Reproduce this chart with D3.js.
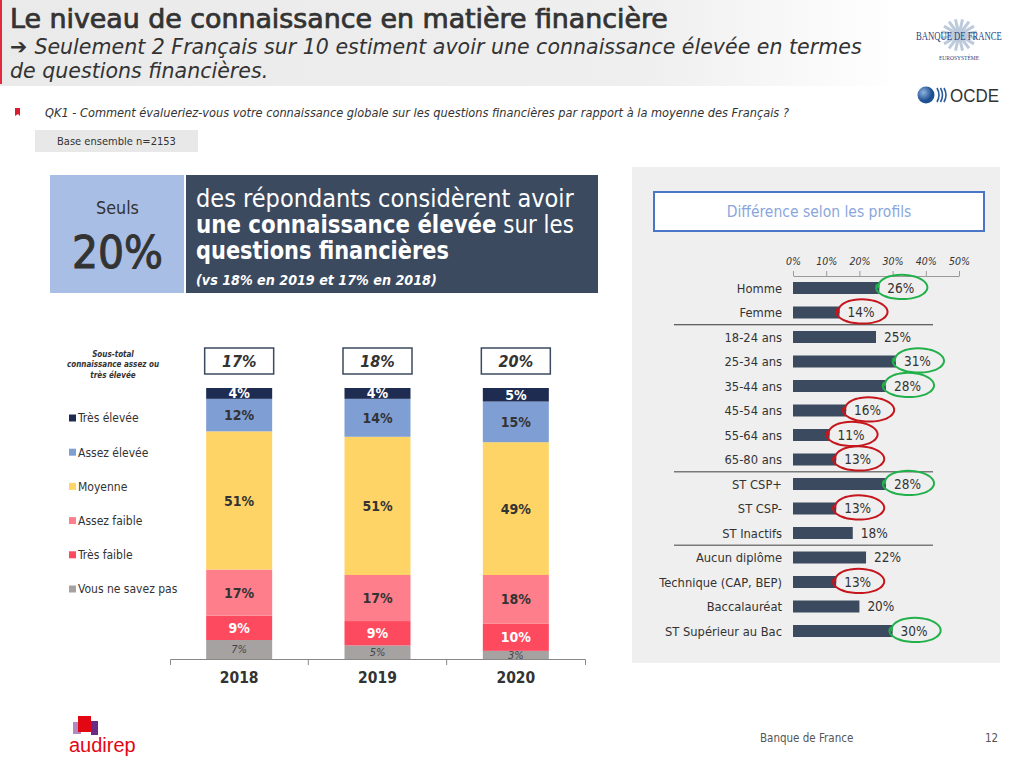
<!DOCTYPE html>
<html><head><meta charset="utf-8">
<script src="https://cdn.jsdelivr.net/npm/d3@7"></script>
<style>
body{margin:0;background:#fff}
svg{display:block}
text{font-family:"DejaVu Sans Condensed","DejaVu Sans",sans-serif}
</style>
</head><body>
<svg id="c" width="1024" height="762"></svg>
<script>
// ---------- DATA ----------
const years = ["2018", "2019", "2020"];
const levels = ["Très élevée", "Assez élevée", "Moyenne", "Assez faible", "Très faible", "Vous ne savez pas"];
const tresElevee = [4, 4, 5];
const assezElevee = [12, 14, 15];
const moyenne = [51, 51, 49];
const assezFaible = [17, 17, 18];
const tresFaible = [9, 9, 10];
const neSaitPas = [7, 5, 3];
const sousTotal = [17, 18, 20];
const levelColors = ["#1e2c52", "#7f9fd4", "#fed466", "#fe7f8b", "#fe4a5f", "#a6a2a2"];
const levelTextColors = ["#ffffff", "#333333", "#333333", "#333333", "#ffffff", "#444444"];

const profiles = ["Homme", "Femme", "18-24 ans", "25-34 ans", "35-44 ans", "45-54 ans", "55-64 ans", "65-80 ans",
  "ST CSP+", "ST CSP-", "ST Inactifs", "Aucun diplôme", "Technique (CAP, BEP)", "Baccalauréat", "ST Supérieur au Bac"];
const profileValues = [26, 14, 25, 31, 28, 16, 11, 13, 28, 13, 18, 22, 13, 20, 30];
const profileMarks = ["high", "low", "", "high", "high", "low", "low", "low", "high", "low", "", "", "low", "", "high"];
const profileGroupEnds = ["Femme", "65-80 ans", "ST Inactifs"];
const profileTicks = [0, 10, 20, 30, 40, 50];

// ---------- HELPERS ----------
const svg = d3.select("#c");
// compress a text horizontally so that it spans the given width
function squeeze(sel, x, y, width) {
  sel.attr("x", 0).attr("y", 0);
  const w = sel.node().getComputedTextLength();
  sel.attr("transform", `translate(${x},${y}) scale(${width / w},1)`);
  return width / w;
}

// ---------- HEADER ----------
const defs = svg.append("defs");
const hg = defs.append("linearGradient").attr("id", "hg").attr("x1", 0).attr("x2", 1).attr("y1", 0).attr("y2", 0);
hg.append("stop").attr("offset", "0").attr("stop-color", "#eaeaea");
hg.append("stop").attr("offset", "0.72").attr("stop-color", "#efefef");
hg.append("stop").attr("offset", "1").attr("stop-color", "#ffffff");
svg.append("rect").attr("x", 0).attr("y", 0).attr("width", 900).attr("height", 86).attr("fill", "url(#hg)");
svg.append("rect").attr("x", 0).attr("y", 0).attr("width", 2).attr("height", 84).attr("fill", "#e2293d");

const title = svg.append("text").attr("fill", "#333").attr("stroke", "#333").attr("stroke-width", 0.7)
  .style("font-size", "26px").text("Le niveau de connaissance en matière financière");
squeeze(title, 10, 28, 658);

const sub1 = svg.append("text").attr("fill", "#333").style("font-style", "italic").style("font-size", "21px");
sub1.append("tspan").style("font-style", "normal").style("font-weight", "bold").text("➔ ");
sub1.append("tspan").text("Seulement 2 Français sur 10 estiment avoir une connaissance élevée en termes");
const sk = squeeze(sub1, 10, 54, 852);
svg.append("text").attr("fill", "#333").style("font-style", "italic").style("font-size", "21px")
  .attr("transform", `translate(10,78) scale(${sk},1)`).text("de questions financières.");

// bullet + question
svg.append("path").attr("d", "M15,108 H20 V116 L18,114 L15,116 Z").attr("fill", "#d81e2e");
const q = svg.append("text").attr("fill", "#333").style("font-style", "italic").style("font-size", "11.5px")
  .text("QK1 - Comment évalueriez-vous votre connaissance globale sur les questions financières par rapport à la moyenne des Français ?");
squeeze(q, 45, 117, 745);

svg.append("rect").attr("x", 35).attr("y", 130).attr("width", 163).attr("height", 22).attr("fill", "#e8e8e8");
const base = svg.append("text").attr("fill", "#333").style("font-size", "11px").text("Base ensemble  n=2153");
squeeze(base, 57, 145, 119);

// logos
const bdf = svg.append("g");
for (let i = 0; i < 16; i++) {
  const a = i * Math.PI / 8 + Math.PI / 16;
  bdf.append("line").attr("x1", 959).attr("y1", 35).attr("x2", 959 + 18 * Math.cos(a)).attr("y2", 35 + 16 * Math.sin(a))
    .attr("stroke", "#bccadc").attr("stroke-width", 3);
}
const bt = bdf.append("text").attr("fill", "#1f3f7d").style("font-family", "Liberation Serif")
  .style("font-size", "12px").text("BANQUE DE FRANCE");
squeeze(bt, 916, 40, 86);
bdf.append("text").attr("x", 959).attr("y", 60).attr("text-anchor", "middle").attr("fill", "#1f3f7d")
  .style("font-family", "Liberation Serif").style("font-size", "5.5px").text("EUROSYSTÈME");
const og = defs.append("radialGradient").attr("id", "og").attr("cx", "0.35").attr("cy", "0.35");
og.append("stop").attr("offset", "0").attr("stop-color", "#8fb3e0");
og.append("stop").attr("offset", "1").attr("stop-color", "#1d4f91");
svg.append("circle").attr("cx", 926).attr("cy", 95).attr("r", 8.5).attr("fill", "url(#og)");
[0, 1, 2].forEach(i => svg.append("path").attr("d", `M${937 + i * 3.5},88 Q${941 + i * 3.5},95 ${937 + i * 3.5},102`)
  .attr("fill", "none").attr("stroke", "#2b5c9c").attr("stroke-width", 1.6));
const ocde = svg.append("text").attr("fill", "#333").style("font-family", "Liberation Sans")
  .style("font-size", "19px").text("OCDE");
squeeze(ocde, 950, 102, 49);

// ---------- CALLOUT ----------
svg.append("rect").attr("x", 50).attr("y", 175).attr("width", 134).attr("height", 118).attr("fill", "#a9bee4");
svg.append("rect").attr("x", 186).attr("y", 175).attr("width", 412).attr("height", 118).attr("fill", "#3b4a5f");
const seuls = svg.append("text").attr("fill", "#333").style("font-size", "17px").text("Seuls");
squeeze(seuls, 96, 214, 43);
const big = svg.append("text").attr("fill", "#333").attr("stroke", "#333").attr("stroke-width", 1)
  .style("font-size", "45px").text("20%");
squeeze(big, 72, 268, 91);
const c1 = svg.append("text").attr("fill", "#fff").style("font-size", "24px").text("des répondants considèrent avoir");
squeeze(c1, 196, 207, 378);
const c2 = svg.append("text").attr("fill", "#fff").style("font-size", "24px");
c2.append("tspan").style("font-weight", "bold").text("une connaissance élevée");
c2.append("tspan").text(" sur les");
squeeze(c2, 196, 233, 378);
const c3 = svg.append("text").attr("fill", "#fff").style("font-size", "24px").style("font-weight", "bold")
  .text("questions financières");
squeeze(c3, 196, 259, 253);
const c4 = svg.append("text").attr("fill", "#fff").style("font-weight", "bold")
  .style("font-style", "italic").style("font-size", "14px").text("(vs 18% en 2019 et 17% en 2018)");
squeeze(c4, 196, 285, 241);

// ---------- LEFT STACKED CHART ----------
const rows = years.map((y, i) => ({
  year: y,
  "Très élevée": tresElevee[i], "Assez élevée": assezElevee[i], "Moyenne": moyenne[i],
  "Assez faible": assezFaible[i], "Très faible": tresFaible[i], "Vous ne savez pas": neSaitPas[i]
}));
const stackKeys = levels.slice().reverse();
const series = d3.stack().keys(stackKeys)(rows);
const xb = d3.scaleBand().domain(years).range([170, 585]);
const yl = d3.scaleLinear().domain([0, 100]).range([659, 388]);
const barW = 66;
const color = d3.scaleOrdinal().domain(levels).range(levelColors);
const tcolor = d3.scaleOrdinal().domain(levels).range(levelTextColors);

const gL = svg.append("g");
series.forEach(s => {
  const key = s.key;
  const g = gL.append("g");
  g.selectAll("rect").data(s).join("rect")
    .attr("x", d => xb(d.data.year) + xb.bandwidth() / 2 - barW / 2)
    .attr("y", d => yl(d[1]))
    .attr("width", barW)
    .attr("height", d => yl(d[0]) - yl(d[1]))
    .attr("fill", color(key));
  const small = key === "Vous ne savez pas";
  g.selectAll("text").data(s).join("text")
    .attr("x", d => xb(d.data.year) + xb.bandwidth() / 2)
    .attr("y", d => (yl(d[0]) + yl(d[1])) / 2)
    .attr("dy", "0.36em")
    .attr("text-anchor", "middle")
    .attr("fill", tcolor(key))
    .style("font-size", small ? "11px" : "14px")
    .style("font-weight", small ? "normal" : "bold")
    .style("font-style", small ? "italic" : "normal")
    .text(d => (d[1] - d[0]) + "%");
});

// axis
const axL = svg.append("g").attr("transform", "translate(0,659)")
  .call(d3.axisBottom(xb).tickSize(0).tickSizeOuter(6).tickPadding(13));
axL.select(".domain").attr("stroke", "#888");
axL.selectAll("text").attr("fill", "#333").style("font-size", "15.5px").style("font-weight", "bold")
  .style("font-family", "'DejaVu Sans Condensed','DejaVu Sans',sans-serif");
years.slice(1).forEach(y => axL.append("line").attr("x1", xb(y)).attr("x2", xb(y)).attr("y1", 0).attr("y2", 6).attr("stroke", "#888"));

// subtotal boxes
svg.append("g").selectAll("g").data(years).join("g").each(function (y, i) {
  const cx = xb(y) + xb.bandwidth() / 2;
  d3.select(this).append("rect").attr("x", cx - 34.5).attr("y", 348).attr("width", 69).attr("height", 26)
    .attr("fill", "#fff").attr("stroke", "#3b4a5f").attr("stroke-width", 1.5);
  d3.select(this).append("text").attr("x", cx).attr("y", 361).attr("dy", "0.36em").attr("text-anchor", "middle")
    .attr("fill", "#333").style("font-size", "16px").style("font-style", "italic").style("font-weight", "bold")
    .text(sousTotal[i] + "%");
});
const stLines = ["Sous-total", "connaissance assez ou", "très élevée"];
svg.append("g").selectAll("text").data(stLines).join("text")
  .attr("x", 113).attr("y", (d, i) => 357 + i * 10.3).attr("text-anchor", "middle").attr("fill", "#333")
  .style("font-size", "8px").style("font-style", "italic").style("font-weight", "bold").text(d => d);

// legend
const leg = svg.append("g").selectAll("g").data(levels).join("g")
  .attr("transform", (d, i) => `translate(69,${418 + i * 34.2})`);
leg.append("rect").attr("x", 0).attr("y", -3.5).attr("width", 7).attr("height", 7).attr("fill", d => color(d));
leg.append("text").attr("x", 9).attr("dy", "0.36em").attr("fill", "#333").style("font-size", "12px").text(d => d);

// ---------- RIGHT PANEL ----------
svg.append("rect").attr("x", 632).attr("y", 167).attr("width", 368).attr("height", 496).attr("fill", "#efefef");
svg.append("rect").attr("x", 654).attr("y", 192).attr("width", 330).attr("height", 39).attr("fill", "#fff")
  .attr("stroke", "#4a76c8").attr("stroke-width", 2);
svg.append("text").attr("x", 819).attr("y", 211).attr("dy", "0.36em").attr("text-anchor", "middle")
  .attr("fill", "#8aa6dc").style("font-size", "15.5px").text("Différence selon les profils");

const xr = d3.scaleLinear().domain([0, 50]).range([793, 959]);
const yr = d3.scalePoint().domain(profiles).range([288, 631]);
const step = yr.step();

const axR = svg.append("g").attr("transform", "translate(0,276)")
  .call(d3.axisTop(xr).tickValues(profileTicks).tickFormat(d => d + "%").tickSize(5).tickSizeOuter(0).tickPadding(6));
axR.select(".domain").attr("stroke", "#999");
axR.selectAll("line").attr("stroke", "#999");
axR.selectAll("text").attr("fill", "#333").style("font-size", "10.5px").style("font-style", "italic")
  .style("font-family", "'DejaVu Sans Condensed','DejaVu Sans',sans-serif");

// separators
svg.append("g").selectAll("line").data(profileGroupEnds).join("line")
  .attr("x1", 674).attr("x2", 933)
  .attr("y1", d => yr(d) + step / 2).attr("y2", d => yr(d) + step / 2)
  .attr("stroke", (d, i) => i === 0 ? "#333" : "#7a7a7a").attr("stroke-width", (d, i) => i === 0 ? 1.2 : 1.5);

const pr = profiles.map((p, i) => ({ p, v: profileValues[i], m: profileMarks[i] }));
const gR = svg.append("g");
gR.selectAll("rect").data(pr).join("rect")
  .attr("x", xr(0)).attr("y", d => yr(d.p) - 6).attr("width", d => xr(d.v) - xr(0)).attr("height", 12)
  .attr("fill", "#3b4a5f");
gR.selectAll("text.lab").data(pr).join("text").attr("class", "lab")
  .attr("x", 782).attr("y", d => yr(d.p)).attr("dy", "0.36em").attr("text-anchor", "end")
  .attr("fill", "#333").style("font-size", "12.8px").text(d => d.p);
gR.selectAll("text.val").data(pr).join("text").attr("class", "val")
  .attr("x", d => xr(d.v) + 8).attr("y", d => yr(d.p)).attr("dy", "0.36em")
  .attr("fill", "#333").style("font-size", "13.5px").text(d => d.v + "%");

// hand-drawn circles
const loop = d3.line().curve(d3.curveBasis);
gR.selectAll("path.mark").data(pr.filter(d => d.m)).join("path").attr("class", "mark")
  .attr("fill", "none").attr("stroke-width", 2)
  .attr("stroke", d => d.m === "high" ? "#22b04a" : "#c4161c")
  .attr("d", d => {
    const cx = xr(d.v) + 23, cy = yr(d.p) - 1.5, rx = 24, ry = 12.5;
    const pts = [];
    const t0 = Math.PI * 0.95;
    for (let k = 0; k <= 40; k++) {
      const t = t0 + (k / 40) * (2 * Math.PI + 0.5);
      const f = 1 + 0.1 * k / 40;
      pts.push([cx + rx * f * Math.cos(t), cy + ry * (2 - f) * Math.sin(t) + 1.5 * k / 40]);
    }
    return loop(pts);
  });

// ---------- FOOTER ----------
svg.append("rect").attr("x", 73).attr("y", 722).attr("width", 8).attr("height", 12).attr("fill", "#b08ac0");
svg.append("rect").attr("x", 78).attr("y", 716).attr("width", 13).attr("height", 16).attr("fill", "#e30613");
svg.append("rect").attr("x", 91).attr("y", 721).attr("width", 7).attr("height", 14).attr("fill", "#6b2d83");
svg.append("text").attr("x", 69).attr("y", 752).attr("fill", "#e30613").style("font-family", "Liberation Sans")
  .style("font-size", "20px").text("audirep");
svg.append("text").attr("x", 760).attr("y", 742).attr("fill", "#555").style("font-size", "11.5px").text("Banque de France");
svg.append("text").attr("x", 985).attr("y", 742).attr("fill", "#555").style("font-size", "11.5px").text("12");
</script>
</body></html>
